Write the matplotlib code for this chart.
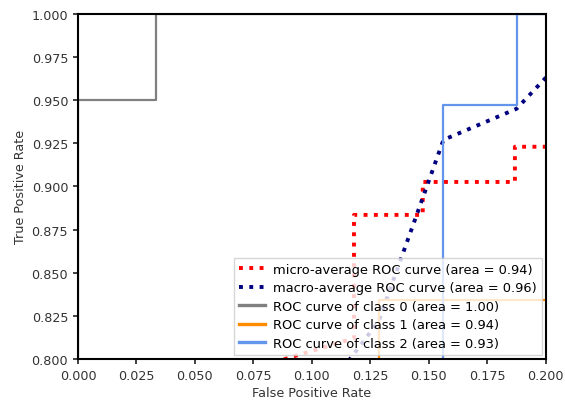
import matplotlib
matplotlib.use("Agg")
import matplotlib.pyplot as plt

# Data (FPR, TPR)
micro_fpr = [0.080, 0.0885, 0.118, 0.118, 0.1474, 0.1474, 0.1868, 0.1868, 0.220]
micro_tpr = [0.795, 0.800, 0.812, 0.8835, 0.8835, 0.9026, 0.9026, 0.923, 0.923]

macro_fpr = [0.105, 0.118, 0.1286, 0.15625, 0.1875, 0.200, 0.220]
macro_tpr = [0.780, 0.803, 0.822, 0.927, 0.945, 0.963, 0.992]

c0_fpr = [0.0, 0.0, 0.0333, 0.0333, 0.220]
c0_tpr = [0.0, 0.950, 0.950, 1.0, 1.0]

c1_fpr = [0.1286, 0.1286, 0.220]
c1_tpr = [0.700, 0.834, 0.834]

c2_fpr = [0.15625, 0.15625, 0.1875, 0.1875, 0.220]
c2_tpr = [0.700, 0.947, 0.947, 1.0, 1.0]

labels = [
    "micro-average ROC curve (area = 0.94)",
    "macro-average ROC curve (area = 0.96)",
    "ROC curve of class 0 (area = 1.00)",
    "ROC curve of class 1 (area = 0.94)",
    "ROC curve of class 2 (area = 0.93)",
]
xticks = [0.000, 0.025, 0.050, 0.075, 0.100, 0.125, 0.150, 0.175, 0.200]
yticks = [0.800, 0.825, 0.850, 0.875, 0.900, 0.925, 0.950, 0.975, 1.000]

fs = 9.2
fig = plt.figure(figsize=(5.65, 4.02), dpi=100)
ax = fig.add_axes([0.138, 0.1045, 0.828, 0.8585])

ax.plot(micro_fpr, micro_tpr, color="red", linestyle=":", linewidth=2.8, label=labels[0])
ax.plot(macro_fpr, macro_tpr, color="navy", linestyle=":", linewidth=2.8, label=labels[1])
ax.plot(c0_fpr, c0_tpr, color="gray", linewidth=1.6, label=labels[2])
ax.plot(c1_fpr, c1_tpr, color="darkorange", linewidth=1.6, label=labels[3])
ax.plot(c2_fpr, c2_tpr, color="cornflowerblue", linewidth=1.6, label=labels[4])

ax.set_xlim(0.0, 0.2)
ax.set_ylim(0.8, 1.0)
ax.set_xticks(xticks)
ax.set_yticks(yticks)
ax.set_xticklabels([f"{v:.3f}" for v in xticks])
ax.set_yticklabels([f"{v:.3f}" for v in yticks])
ax.tick_params(labelsize=fs, colors="#333333", length=3.5, width=1.3)
for s in ax.spines.values():
    s.set_linewidth(1.5)
ax.set_xlabel("False Positive Rate", fontsize=fs, color="#333333", labelpad=3)
ax.set_ylabel("True Positive Rate", fontsize=fs, color="#333333", labelpad=3)
leg = ax.legend(loc="lower right", fontsize=9.4, handlelength=2.0, borderaxespad=0.3,
                labelspacing=0.42, handletextpad=0.6, fancybox=False)
for h in leg.get_lines()[2:]:
    h.set_linewidth(2.4)

fig.savefig("out.png", dpi=100)
